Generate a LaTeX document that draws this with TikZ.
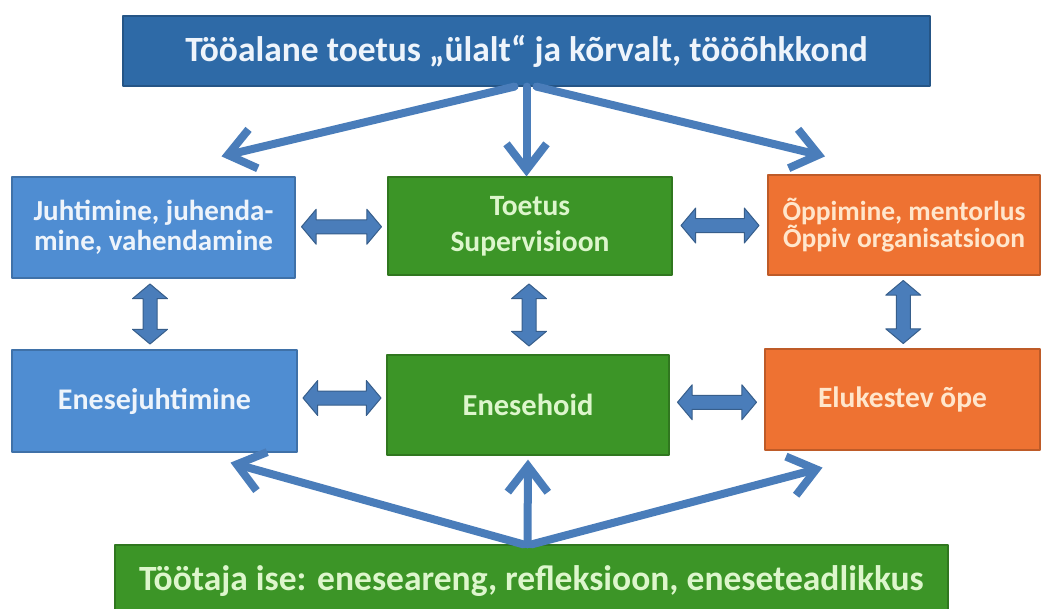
\documentclass[tikz,border=0pt]{standalone}
\usepackage{fontspec}
\setmainfont{Carlito}
\usetikzlibrary{arrows.meta,shapes.arrows,calc}
\definecolor{topblue}{HTML}{2E6AA7}
\definecolor{boxblue}{HTML}{4F8DD2}
\definecolor{boxgreen}{HTML}{3C9527}
\definecolor{boxorange}{HTML}{EE7232}
\definecolor{arrowblue}{HTML}{4A7DBA}
\definecolor{txtblue}{HTML}{EEF4FB}
\definecolor{txtgreen}{HTML}{DDF6CC}
\definecolor{txtorange}{HTML}{FFE6CC}
\tikzset{
  box/.style={draw=#1!80!black, fill=#1, line width=1.2pt, inner sep=0pt, align=center},
  con/.style={draw=arrowblue, line width=8pt, line cap=round, -{Straight Barb[length=26pt,width=40pt]}},
  dbl/.style={double arrow, fill=arrowblue, draw=arrowblue!75!black, line width=1pt, inner xsep=0pt, inner ysep=6.5pt,
    double arrow head extend=10.5pt, double arrow tip angle=100},
  dblv/.style={dbl, shape border rotate=90, inner xsep=6.5pt, inner ysep=0pt}
}
\begin{document}
\begin{tikzpicture}[x=1pt, y=-1pt, line join=round]
\clip (0,0) rectangle (1043,608);
\fill[white] (0,0) rectangle (1043,608);
% boxes
\node[box=topblue, minimum width=807, minimum height=70, text=txtblue, font=\fontsize{35.5}{40}\selectfont\bfseries] (top) at (526.5,51) {Tööalane toetus „ülalt“ ja kõrvalt, tööõhkkond};
\node[box=boxblue, minimum width=283, minimum height=101, text=txtblue, font=\fontsize{29}{30}\selectfont\bfseries] (lt) at (153.5,227.5) {Juhtimine, juhenda-\\mine, vahendamine};
\node[box=boxgreen, minimum width=284, minimum height=98, text=txtgreen, font=\fontsize{29.5}{36}\selectfont\bfseries] (mt) at (530,226) {Toetus\\Supervisioon};
\node[box=boxorange, minimum width=272, minimum height=100, text=txtorange, font=\fontsize{27.5}{25}\selectfont\bfseries] (rt) at (904,225) {Õppimine, mentorlus\\Õppiv organisatsioon};
\node[box=boxblue, minimum width=285, minimum height=102, text=txtblue, font=\fontsize{30}{30}\selectfont\bfseries] (lb) at (154.5,401) {Enesejuhtimine};
\node[box=boxgreen, minimum width=282, minimum height=100, text=txtgreen, font=\fontsize{30.5}{30}\selectfont\bfseries] (mb) at (528,405) {Enesehoid};
\node[box=boxorange, minimum width=275, minimum height=101, text=txtorange, font=\fontsize{29.5}{30}\selectfont\bfseries] (rb) at (902.5,399.5) {Elukestev õpe};
\node[box=boxgreen, minimum width=833, minimum height=72, text=txtgreen, font=\fontsize{35.5}{40}\selectfont\bfseries] (bot) at (531.5,581) {Töötaja ise: eneseareng, refleksioon, eneseteadlikkus};
% arrows from above
\coordinate (tl) at ($(lt.north)+(68,-20)$);
\coordinate (tr) at ($(rt.north)+(-79,-18)$);
\draw[con] ($(top.south)+(-12,0)$) -- (tl);
\draw[con] (top.south) -- (top.south |- mt.north);
\draw[con] ($(top.south)+(10,0)$) -- (tr);
% arrows from below
\coordinate (bl) at ($(lb.south)+(76,10)$);
\coordinate (br) at ($(rb.south)+(-80,17)$);
\draw[con] ($(bot.north)+(-8,0)$) -- (bl);
\draw[con] ($(bot.north)+(-4,0)$) -- ($(mb.south)+(0,4)$);
\draw[con] (bot.north) -- (br);
% double arrows
\node[dbl, minimum height=80] (h1) at ($(lt.east)!.5!(mt.west)$) {};
\node[dbl, minimum height=78] (h2) at ($(mt.east)!.5!(rt.west)$) {};
\node[dbl, minimum height=78] (h3) at ($(lb.east)!.5!(mb.west)+(0,-5)$) {};
\node[dbl, minimum height=79] (h4) at ($(mb.east)!.5!(rb.west)$) {};
\node[dblv, minimum height=60] (v1) at ($(lt.south)!.5!(lb.north)+(-4,0)$) {};
\node[dblv, minimum height=62] (v2) at ($(mt.south)!.5!(mb.north)$) {};
\node[dblv, minimum height=63] (v3) at ($(rt.south)!.5!(rb.north)$) {};
\end{tikzpicture}
\end{document}
